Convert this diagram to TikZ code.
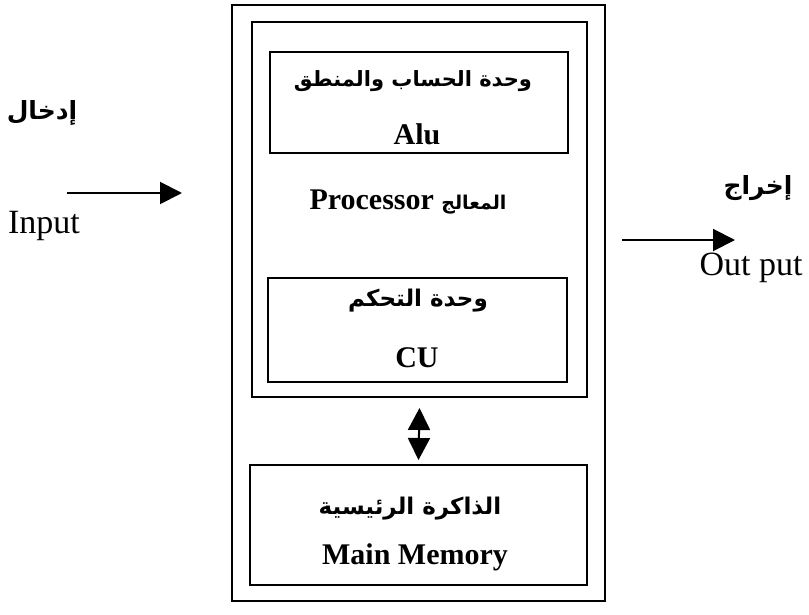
\documentclass[tikz,border=0pt]{standalone}
\usepackage{fontspec}
\setmainfont{Liberation Serif}
\newfontfamily\arabicfont[Script=Arabic]{DejaVu Sans}
\TeXXeTstate=1
\usetikzlibrary{arrows.meta,positioning}
\newcommand{\artxt}[2][11.5]{{\arabicfont\bfseries\fontsize{#1}{14}\selectfont\beginR #2\endR}}

\begin{document}
\begin{tikzpicture}[x=0.5pt,y=-0.5pt,
                    every node/.style={inner sep=0pt,font=\fontsize{15}{18}\selectfont},
                    unitbox/.style={draw,line width=1pt},
                    plain/.style={font=\fontsize{17}{20}\selectfont},
                    >={Triangle[length=11pt,width=11pt]}]

\useasboundingbox (0,0) rectangle (809,615);

% boxes
\node[unitbox,minimum width=186.5pt,minimum height=298pt] (computer) at (418.5,303) {};
\node[unitbox,minimum width=167.5pt,minimum height=187.5pt] (proc) at (419.5,209.5) {};
\node[unitbox,minimum width=149pt,minimum height=50.5pt] (alu) at (419,102.5) {};
\node[unitbox,minimum width=149.5pt,minimum height=52pt] (cu) at (417.5,330) {};
\node[unitbox,minimum width=168.5pt,minimum height=60pt] (mem) at (418.5,525) {};

% texts in the boxes
\node (aluar) at (413,81) {\artxt[10.5]{وحدة الحساب والمنطق}};
\node (aluen) at (417,134) {\textbf{Alu}};
\node (procname) at (408,202) {\textbf{Processor} \artxt[9.5]{المعالج}};
\node (cuar) at (418,301) {\artxt{وحدة التحكم}};
\node (cuen) at (417,358) {\textbf{CU}};
\node (memar) at (410,509) {\artxt{الذاكرة الرئيسية}};
\node (memen) at (415,557) {\textbf{Main Memory}};

\draw[line width=1pt,<->] ([yshift=-5pt]proc.south) -- ([yshift=2pt]mem.north);

% input side
\node (inar) at (42,113) {\artxt[12.5]{إدخال}};
\node[plain] (inen) at (44,226) {Input};
\coordinate (insrc) at (67,193);
\coordinate (indst) at (182,193);
\draw[line width=1pt,->] (insrc) -- (indst);

% output side
\node (outar) at (758,188) {\artxt[12.5]{إخراج}};
\node[plain] (outen) at (751,268) {Out put};
\coordinate (outsrc) at (622,240);
\coordinate (outdst) at (735,240);
\draw[line width=1pt,->] (outsrc) -- (outdst);

\end{tikzpicture}
\end{document}
